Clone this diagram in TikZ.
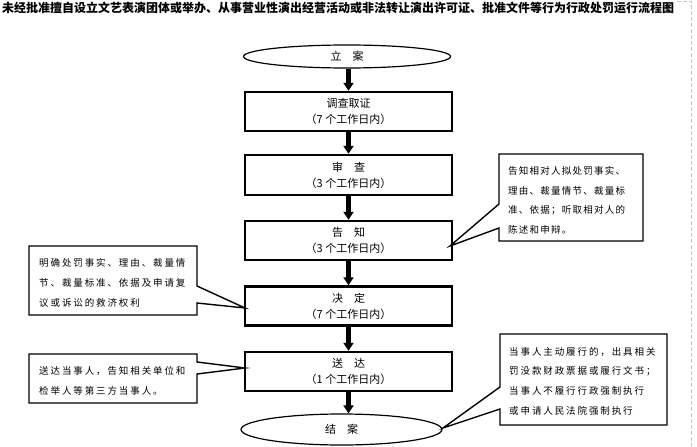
\documentclass[tikz,border=0pt]{standalone}
\usepackage{fontspec}
\setmainfont{Noto Sans CJK SC}
\newfontfamily\cjktitle{Noto Sans CJK SC}
\newfontfamily\cjknote[LetterSpace=20]{Noto Sans CJK SC}
\newfontfamily\cjknoteb[LetterSpace=13]{Noto Sans CJK SC}
\usepackage{tikz}
\usetikzlibrary{arrows.meta,shapes.geometric}

\begin{document}
\begin{tikzpicture}[x=1pt,y=-1pt,
  stepbox/.style={draw,line width=2.4pt,minimum width=207pt,minimum height=39pt,align=center,inner sep=0,font=\fontsize{11}{16}\selectfont},
  endcap/.style={draw,ellipse,line width=1.2pt,inner sep=0,font=\fontsize{11}{16}\selectfont},
  flow/.style={line width=4.5pt,-{Triangle[width=10pt,length=8pt]}},
  note/.style={draw,line width=1.4pt,fill=white,line join=miter},
  notetext/.style={anchor=west,align=left,inner sep=0,font=\cjknote\fontsize{9.5}{19.7}\selectfont}]
\fill[white] (0,0) rectangle (697,447);
\useasboundingbox (0,0) rectangle (697,447);
\node[anchor=west,inner sep=0,font=\cjktitle\bfseries\fontsize{12}{14}\selectfont] (title) at (2,7.5) {未经批准擅自设立文艺表演团体或举办、从事营业性演出经营活动或非法转让演出许可证、批准文件等行为行政处罚运行流程图};
\coordinate (rim) at (691,1);
\draw[gray!45,line width=0.8pt,dash pattern=on 4pt off 2pt] ([xshift=3pt]title.east |- rim) -- (rim) -- (691,447);
% main flow
\node[endcap,minimum width=207pt,minimum height=23pt] (la) at (347,56.5) {立　案};
\node[stepbox] (dc) at (348.5,111.5) {调查取证\\（7 个工作日内）};
\node[stepbox,minimum height=40pt] (sc) at (348.5,175) {审　查\\（3 个工作日内）};
\node[stepbox] (gz) at (348.5,240.5) {告　知\\（3 个工作日内）};
\node[stepbox] (jd) at (348.5,306) {决　定\\（7 个工作日内）};
\node[stepbox] (sd) at (348.5,371.5) {送　达\\（1 个工作日内）};
\node[endcap,minimum width=201pt,minimum height=31pt] (ja) at (341.5,429.5) {结　案};
\foreach \a/\b in {la/dc,dc/sc,sc/gz,gz/jd,jd/sd}
  \draw[flow] (\b.north |- \a.south) -- (\b.north);
\draw[flow] (sd.south) -- (sd.south |- ja.north);
% callouts
\coordinate (t1) at (450,246);
\coordinate (t2) at (245,308);
\coordinate (t3) at (245,368);
\coordinate (t4) at (443,428);
\draw[note] (499,154) -- (643,154) -- (643,241) -- (499,241) -- (499,228) -- (t1) -- (499,204) -- cycle;
\draw[note] (29,246) -- (197,246) -- (197,286) -- (t2) -- (197,303) -- (197,315) -- (29,315) -- cycle;
\draw[note] (29,354) -- (197,354) -- (197,362) -- (t3) -- (197,374) -- (197,403) -- (29,403) -- cycle;
\draw[note] (500,334) -- (667,334) -- (667,425) -- (500,425) -- (500,409) -- (t4) -- (500,387) -- cycle;
\node[notetext,font=\cjknoteb\fontsize{9.5}{19.7}\selectfont] (n1) at (508,200.5) {告知相对人拟处罚事实、\\理由、裁量情节、裁量标\\准、依据；听取相对人的\\陈述和申辩。};
\node[notetext] (n2) at (39,283) {明确处罚事实、理由、裁量情\\节、裁量标准、依据及申请复\\议或诉讼的救济权利};
\node[notetext] (n3) at (39,381) {送达当事人，告知相关单位和\\检举人等第三方当事人。};
\node[notetext] (n4) at (509,381) {当事人主动履行的，出具相关\\罚没款财政票据或履行文书；\\当事人不履行行政强制执行\\或申请人民法院强制执行};
\end{tikzpicture}
\end{document}
